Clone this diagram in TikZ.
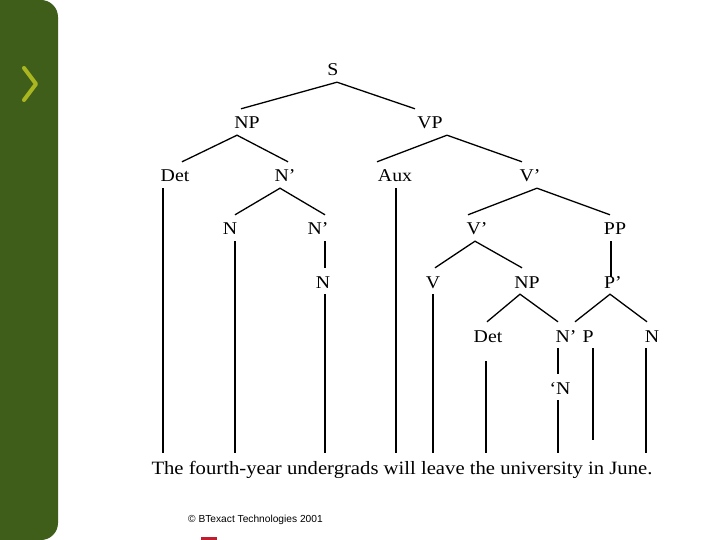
\documentclass[tikz,border=0pt]{standalone}
\usepackage{fontspec}
\setmainfont{Liberation Serif}[FakeStretch=1.1]
\newfontfamily\cpfont{Liberation Sans}
\definecolor{sidegreen}{RGB}{62,94,26}
\definecolor{chev}{RGB}{170,182,32}
\definecolor{logored}{RGB}{190,30,45}
\begin{document}
\begin{tikzpicture}[x=1pt,y=-1pt,
  lab/.style={anchor=base, inner sep=0pt, text height=20pt, text depth=6pt, font=\fontsize{18}{20}\selectfont},
  br/.style={line width=1.3pt},
]
\useasboundingbox (0,0) rectangle (720,540);
\fill[white] (0,0) rectangle (720,540);
% sidebar
\fill[sidegreen] (0,0) rectangle (30,540);
\fill[sidegreen, rounded corners=17pt] (0,0) rectangle (58,540);
\draw[chev, line width=4pt, line cap=round, line join=round] (24,68) -- (36,84) -- (24,100);

% labels
\node[lab] (S) at (333,76) {S};
\node[lab] (NP) at (247,129) {NP};
\node[lab] (VP) at (430,129) {VP};
\node[lab] (Det) at (175,182) {Det};
\node[lab] (Nb1) at (285,182) {N’};
\node[lab] (Aux) at (395,182) {Aux};
\node[lab] (Vb1) at (530,182) {V’};
\node[lab] (N1) at (230,235) {N};
\node[lab] (Nb2) at (318,235) {N’};
\node[lab] (Vb2) at (477,235) {V’};
\node[lab] (PP) at (615,235) {PP};
\node[lab] (N2) at (323,288) {N};
\node[lab] (V) at (433,288) {V};
\node[lab] (NP2) at (527,288) {NP};
\node[lab] (Pb) at (613,288) {P’};
\node[lab] (Det2) at (488,342) {Det};
\node[lab] (Nb3) at (566,342) {N’};
\node[lab] (P) at (588,342) {P};
\node[lab] (N3) at (652,342) {N};
\node[lab] (N4) at (560,394) {\textquoteleft N};

% feet
\coordinate (fDet) at (163,453);
\coordinate (fN1) at (235,453);
\coordinate (fN2) at (325,453);
\coordinate (fAux) at (396,453);
\coordinate (fV) at (433,453);
\coordinate (fDet2) at (486,453);
\coordinate (fN4) at (558,453);
\coordinate (fP) at (593,440);
\coordinate (fN3) at (646,453);

% branches
\draw[br] ([xshift=-6]NP.north) -- ([xshift=4]S.south) -- ([xshift=-15]VP.north);
\draw[br] ([xshift=7]Det.north) -- ([xshift=-10]NP.south) -- ([xshift=3]Nb1.north);
\draw[br] ([xshift=-18]Aux.north) -- ([xshift=17]VP.south) -- ([xshift=-8]Vb1.north);
\draw[br] ([xshift=5]N1.north) -- ([xshift=-5]Nb1.south) -- ([xshift=7]Nb2.north);
\draw[br] ([xshift=-9]Vb2.north) -- ([xshift=7]Vb1.south) -- ([xshift=-5]PP.north);
\draw[br] ([xshift=2]V.north) -- ([xshift=-2]Vb2.south) -- ([xshift=-5]NP2.north);
\draw[br] ([xshift=-1]Det2.north) -- ([xshift=-7]NP2.south) -- ([xshift=-8]Nb3.north);
\draw[br] ([xshift=-13]P.north) -- ([xshift=-3]Pb.south) -- ([xshift=-5]N3.north);
\draw[br] ([xshift=7]Nb2.south) -- ([xshift=2]N2.north);
\draw[br] ([xshift=-4]PP.south) -- ([xshift=-2,yshift=-9]Pb.north);
\draw[br] ([xshift=-8]Nb3.south) -- ([xshift=-2]N4.north);

% verticals to words
\draw[br] ([xshift=-12]Det.south) -- (fDet);
\draw[br] ([xshift=5]N1.south) -- (fN1);
\draw[br] ([xshift=2]N2.south) -- (fN2);
\draw[br] ([xshift=1]Aux.south) -- (fAux);
\draw[br] (V.south) -- (fV);
\draw[br] ([xshift=-2,yshift=-13]Det2.south) -- (fDet2);
\draw[br] ([xshift=-2]N4.south) -- (fN4);
\draw[br] ([xshift=5]P.south) -- (fP);
\draw[br] ([xshift=-6]N3.south) -- (fN3);

% sentence
\node[anchor=base, inner sep=0pt, font=\fontsize{18.8}{20}\selectfont] (sent) at (402,474) {The fourth-year undergrads will leave the university in June.};

% footer
\node[anchor=west, inner sep=0pt, font=\cpfont\fontsize{10.2}{12}\selectfont] (copy) at (188,520) {© BTexact Technologies 2001};
\fill[logored] (201,537) rectangle (217,540);
\end{tikzpicture}
\end{document}
